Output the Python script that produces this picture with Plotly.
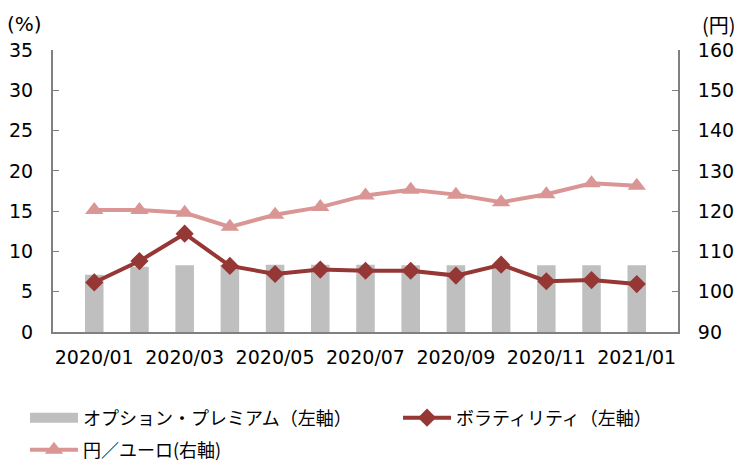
import plotly.graph_objects as go

categories = ["2020/01", "2020/02", "2020/03", "2020/04", "2020/05", "2020/06", "2020/07",
              "2020/08", "2020/09", "2020/10", "2020/11", "2020/12", "2021/01"]
premium = [7.1, 8.1, 8.3, 8.3, 8.35, 8.35, 8.35, 8.3, 8.3, 8.3, 8.3, 8.3, 8.3]
volatility = [6.15, 8.8, 12.2, 8.2, 7.2, 7.75, 7.6, 7.6, 7.0, 8.35, 6.3, 6.45, 5.95]
yen_euro = [120.3, 120.3, 119.6, 116.1, 119.1, 121.0, 123.9, 125.3, 124.1, 122.2, 124.2, 126.9, 126.3]
tick_labels = categories[::2]

FONT = "Noto Sans CJK JP"
NUM_FONT = "DejaVu Sans"
BAR_COLOR = "#BFBFBF"
VOL_COLOR = "#953735"
FX_COLOR = "#D99694"

fig = go.Figure()
fig.add_trace(go.Bar(
    x=categories, y=premium, name="オプション・プレミアム（左軸）",
    marker=dict(color=BAR_COLOR, line=dict(width=0)), yaxis="y", showlegend=False,
))
# legend entry for the bars, drawn as a wide swatch like the reference
fig.add_trace(go.Scatter(
    x=[None], y=[None], name="オプション・プレミアム（左軸）", mode="lines",
    line=dict(color=BAR_COLOR, width=10), yaxis="y", legend="legend",
))
fig.add_trace(go.Scatter(
    x=categories, y=volatility, name="ボラティリティ（左軸）", mode="lines+markers",
    line=dict(color=VOL_COLOR, width=4),
    marker=dict(symbol="diamond", size=14, color=VOL_COLOR), yaxis="y", legend="legend2",
))
fig.add_trace(go.Scatter(
    x=categories, y=yen_euro, name="円／ユーロ(右軸)", mode="lines+markers",
    line=dict(color=FX_COLOR, width=4),
    marker=dict(symbol="triangle-up", size=16, color=FX_COLOR), yaxis="y2", legend="legend3",
))

axis_line = "#808080"
leg_common = dict(orientation="h", xanchor="left", yanchor="middle",
                  xref="container", yref="container",
                  font=dict(size=18, family=FONT), itemwidth=48, bgcolor="rgba(0,0,0,0)")
fig.update_layout(
    width=739, height=466,
    margin=dict(l=53, r=61, t=50, b=134),
    plot_bgcolor="white", paper_bgcolor="white",
    font=dict(family=FONT, size=18, color="black"),
    bargap=0.59,
    showlegend=True,
    xaxis=dict(
        type="category", tickmode="array", tickvals=tick_labels, ticktext=tick_labels,
        showline=True, linecolor=axis_line, linewidth=2, ticks="", showgrid=False,
        ticklabelstandoff=7, tickfont=dict(size=19, family=NUM_FONT), automargin=False,
    ),
    yaxis=dict(
        range=[0, 35], tickvals=[0, 5, 10, 15, 20, 25, 30, 35], showgrid=False, zeroline=False,
        showline=True, linecolor=axis_line, linewidth=2, ticks="inside", ticklen=6,
        tickcolor=axis_line, ticklabelstandoff=14, tickfont=dict(size=19, family=NUM_FONT),
        automargin=False,
    ),
    yaxis2=dict(
        range=[90, 160], tickvals=[90, 100, 110, 120, 130, 140, 150, 160], overlaying="y",
        side="right", showgrid=False, zeroline=False,
        showline=True, linecolor=axis_line, linewidth=2, ticks="inside", ticklen=6,
        tickcolor=axis_line, ticklabelstandoff=14, tickfont=dict(size=19, family=NUM_FONT),
        automargin=False,
    ),
    legend=dict(x=0.0338, y=0.103, **leg_common),
    legend2=dict(x=0.5386, y=0.103, **leg_common),
    legend3=dict(x=0.0338, y=0.034, **leg_common),
    annotations=[
        dict(text="(%)", xref="paper", yref="paper", x=-0.0768, y=1.092, xanchor="left",
             yanchor="middle", showarrow=False, font=dict(size=20, family=NUM_FONT)),
        dict(text="(円)", xref="paper", yref="paper", x=1.096, y=1.092, xanchor="right",
             yanchor="middle", showarrow=False, font=dict(size=20, family=FONT)),
    ],
)

fig.write_html("out.html", config={"displayModeBar": False},
               post_script="document.body.style.margin='0';")
